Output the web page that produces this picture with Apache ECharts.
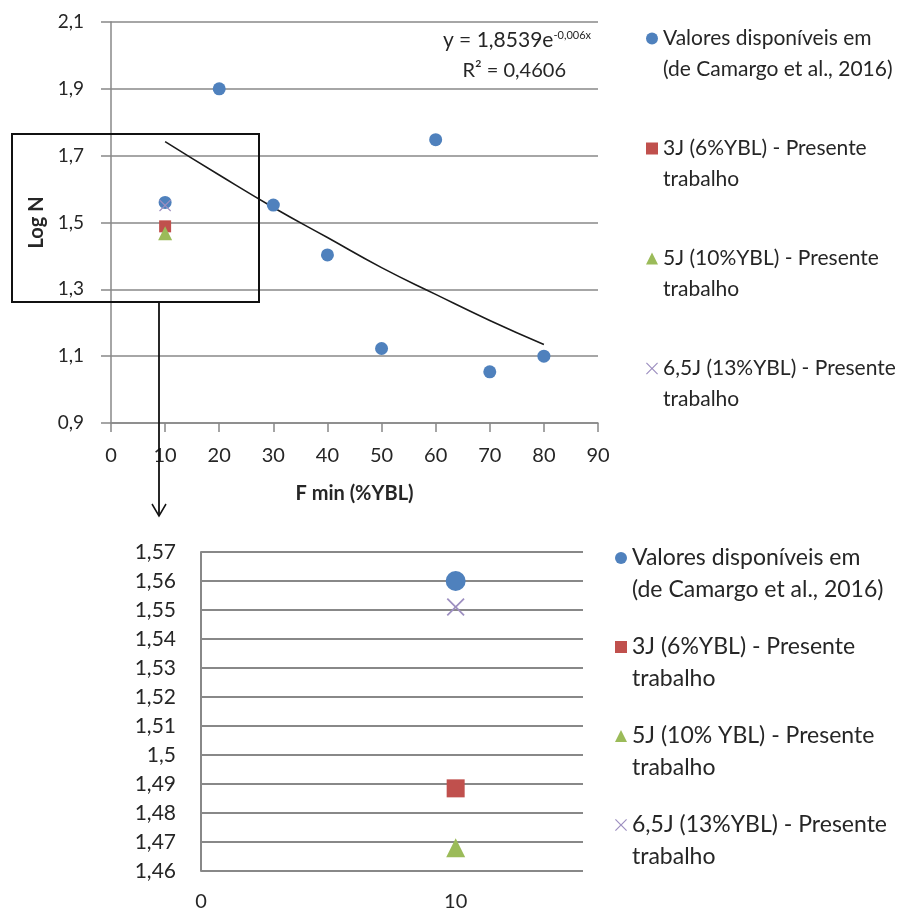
<!DOCTYPE html>
<html>
<head>
<meta charset="utf-8">
<script src="https://cdn.jsdelivr.net/npm/echarts@6/dist/echarts.min.js"></script>
<style>
html,body{margin:0;padding:0;background:#fff;}
#c{width:913px;height:913px;}
</style>
</head>
<body>
<div id="c"></div>
<script>
// ---- data ----
const camargoX = [10, 20, 30, 40, 50, 60, 70, 80];
const camargoY = [1.56, 1.90, 1.552, 1.403, 1.123, 1.748, 1.053, 1.100];
const j3X = [10];
const j3Y = [1.4885];
const j5X = [10];
const j5Y = [1.468];
const j65X = [10];
const j65Y = [1.551];
const trendX = [10, 20, 30, 40, 50, 60, 70, 80];
const trendY = [1.742, 1.642, 1.545, 1.455, 1.365, 1.285, 1.207, 1.135];
const topXTicks = [0, 90, 10];       // min, max, interval
const topYTicks = [0.9, 2.1, 0.2];
const botXTicks = [0, 15, 10];
const botYTicks = [1.46, 1.57, 0.01];
const seriesNames = [
  'Valores disponíveis em (de Camargo et al., 2016)',
  '3J (6%YBL) - Presente trabalho',
  '5J (10%YBL) - Presente trabalho',
  '6,5J (13%YBL) - Presente trabalho'
];
const topLegendText = [
  'Valores disponíveis em\n(de Camargo et al., 2016)',
  '3J (6%YBL) - Presente\ntrabalho',
  '5J (10%YBL) - Presente\ntrabalho',
  '6,5J (13%YBL) - Presente\ntrabalho'
];
const botLegendText = [
  'Valores disponíveis em\n(de Camargo et al., 2016)',
  '3J (6%YBL) - Presente\ntrabalho',
  '5J (10% YBL) - Presente\ntrabalho',
  '6,5J (13%YBL) - Presente\ntrabalho'
];
const equationText = ['y = 1,8539e', '-0,006x', 'R² = 0,4606'];
const yTitle = 'Log N';
const xTitle = 'F min (%YBL)';

// ---- styling ----
const FONT = 'Lato';
const TXT = '#262626';
const colors = ['#4f81bd', '#c0504d', '#9bbb59', '#9d8fc0'];
const gridCol = '#888888';
const xPath = 'path://M0,1.4L1.4,0L10,8.6L18.6,0L20,1.4L11.4,10L20,18.6L18.6,20L10,11.4L1.4,20L0,18.6L8.6,10Z';
const symbols = ['circle', 'rect', 'triangle', xPath];
const zip = (a, b) => a.map((v, i) => [v, b[i]]);
const dataSets = [zip(camargoX, camargoY), zip(j3X, j3Y), zip(j5X, j5Y), zip(j65X, j65Y)];
const topSizes = [13, 12, 14, 12];
const botSizes = [20, 18, 19, 18];

const chart = echarts.init(document.getElementById('c'), null, {renderer: 'canvas'});

const series = [];
dataSets.forEach((d, i) => {
  series.push({
    name: seriesNames[i], type: 'scatter', xAxisIndex: 0, yAxisIndex: 0,
    symbol: symbols[i], symbolSize: topSizes[i], data: d,
    itemStyle: {color: colors[i], opacity: 1}, z: 3 + i
  });
});
series.push({
  name: 'trend', type: 'line', xAxisIndex: 0, yAxisIndex: 0, smooth: true,
  showSymbol: false, symbol: 'none', data: zip(trendX, trendY),
  lineStyle: {color: '#1a1a1a', width: 1.6}, z: 2, silent: true
});
dataSets.forEach((d, i) => {
  series.push({
    name: seriesNames[i], type: 'scatter', xAxisIndex: 1, yAxisIndex: 1,
    symbol: symbols[i], symbolSize: botSizes[i], data: d, clip: true,
    itemStyle: {color: colors[i], opacity: 1}, z: 3 + i
  });
});

const legendBase = {
  orient: 'vertical', padding: 0, itemWidth: 12, itemHeight: 12,
  selectedMode: false, data: seriesNames.map((n, i) => ({name: n, icon: symbols[i]}))
};

const option = {
  animation: false,
  backgroundColor: '#fff',
  textStyle: {fontFamily: FONT},
  grid: [
    {left: 111, top: 22, width: 487, height: 401},
    {left: 201, top: 552, width: 382, height: 319}
  ],
  xAxis: [
    {
      gridIndex: 0, type: 'value', min: topXTicks[0], max: topXTicks[1], interval: topXTicks[2],
      name: xTitle, nameLocation: 'middle', nameGap: 61,
      nameTextStyle: {fontFamily: FONT, fontSize: 20, fontWeight: 'bold', color: TXT},
      axisLine: {show: true, lineStyle: {color: gridCol, width: 1.5}},
      axisTick: {show: true, length: 9, lineStyle: {color: gridCol, width: 1.5}},
      axisLabel: {fontFamily: FONT, fontSize: 20, color: TXT, margin: 23},
      splitLine: {show: false}
    },
    {
      gridIndex: 1, type: 'value', min: botXTicks[0], max: botXTicks[1], interval: botXTicks[2],
      axisLine: {show: false}, axisTick: {show: false},
      axisLabel: {fontFamily: FONT, fontSize: 20, color: TXT, margin: 21, showMaxLabel: false},
      splitLine: {show: false}
    }
  ],
  yAxis: [
    {
      gridIndex: 0, type: 'value', min: topYTicks[0], max: topYTicks[1], interval: topYTicks[2],
      name: yTitle, nameLocation: 'middle', nameGap: 64, nameRotate: 90,
      nameTextStyle: {fontFamily: FONT, fontSize: 20, fontWeight: 'bold', color: TXT},
      axisLine: {show: true, lineStyle: {color: gridCol, width: 1.5}},
      axisTick: {show: true, length: 10, lineStyle: {color: gridCol, width: 1.5}},
      axisLabel: {fontFamily: FONT, fontSize: 19, color: TXT, margin: 27,
        formatter: v => v.toFixed(1).replace('.', ',')},
      splitLine: {show: true, lineStyle: {color: gridCol, width: 1.5}}
    },
    {
      gridIndex: 1, type: 'value', min: botYTicks[0], max: botYTicks[1], interval: botYTicks[2],
      axisLine: {show: true, lineStyle: {color: gridCol, width: 2}},
      axisTick: {show: false},
      axisLabel: {fontFamily: FONT, fontSize: 21, color: TXT, margin: 25,
        formatter: v => String(+v.toFixed(2)).replace('.', ',')},
      splitLine: {show: true, lineStyle: {color: gridCol, width: 2}}
    }
  ],
  legend: [
    Object.assign({}, legendBase, {
      left: 646, top: -8, itemGap: 17,
      formatter: n => ' \n' + topLegendText[seriesNames.indexOf(n)],
      textStyle: {fontFamily: FONT, fontSize: 21, color: TXT, lineHeight: 31}
    }),
    Object.assign({}, legendBase, {
      left: 615, top: 510, itemGap: -7,
      formatter: n => ' \n' + botLegendText[seriesNames.indexOf(n)],
      textStyle: {fontFamily: FONT, fontSize: 23, color: TXT, lineHeight: 32}
    })
  ],
  graphic: [
    {type: 'rect', shape: {x: 12, y: 134, width: 247, height: 168},
     style: {fill: 'none', stroke: '#111', lineWidth: 2}, z: 10},
    {type: 'polyline', shape: {points: [[159, 302], [159, 515]]},
     style: {stroke: '#111', lineWidth: 1.8, fill: null}, z: 10},
    {type: 'polyline', shape: {points: [[152, 504], [159, 516], [166, 504]]},
     style: {stroke: '#111', lineWidth: 1.5, fill: null}, z: 10},
    {type: 'text', right: 913 - 591, top: 30,
     style: {text: '{a|' + equationText[0] + '}{s|' + equationText[1] + '}',
       rich: {a: {fontFamily: FONT, fontSize: 21, fill: TXT},
              s: {fontFamily: FONT, fontSize: 11, fill: TXT, verticalAlign: 'top', padding: [0, 0, 10, 0]}}}},
    {type: 'text', x: 566, y: 71,
     style: {text: equationText[2], fontFamily: FONT, fontSize: 20, fill: TXT, align: 'right', verticalAlign: 'middle'}}
  ],
  series: series
};
chart.setOption(option);
</script>
</body>
</html>
